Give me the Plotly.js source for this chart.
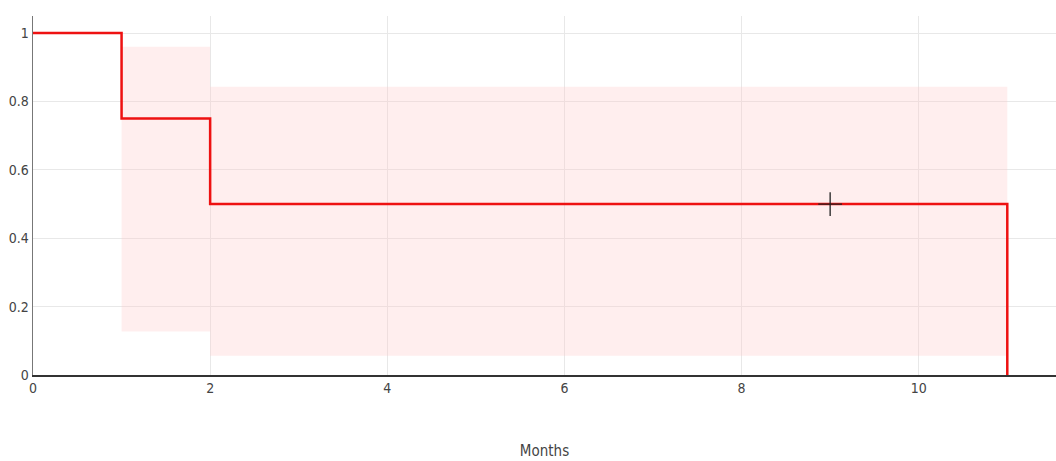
<!DOCTYPE html>
<html>
<head>
<meta charset="utf-8">
<script src="https://cdn.plot.ly/plotly-3.0.1.min.js"></script>
<style>html,body{margin:0;padding:0;background:#fff;}#chart{width:1056px;height:461px;}</style>
</head>
<body>
<div id="chart"></div>
<script>
var stepTimes = [0, 1, 2, 11];
var survival = [1, 0.75, 0.5, 0];
var ciTimes = [1, 2, 11];
var ciLower = [0.127, 0.056, 0.056];
var ciUpper = [0.96, 0.843, 0.843];
var censorTimes = [9];
var censorSurv = [0.5];

var traces = [
  {x: ciTimes, y: ciLower, mode: 'lines', line: {shape: 'hv', width: 0, color: 'rgba(0,0,0,0)'}, hoverinfo: 'skip', showlegend: false},
  {x: ciTimes, y: ciUpper, mode: 'lines', line: {shape: 'hv', width: 0, color: 'rgba(0,0,0,0)'}, fill: 'tonexty', fillcolor: 'rgba(255,200,200,0.3)', hoverinfo: 'skip', showlegend: false},
  {x: stepTimes, y: survival, mode: 'lines', line: {shape: 'hv', width: 2.5, color: '#ee1111'}, showlegend: false},
  {x: censorTimes, y: censorSurv, mode: 'markers', marker: {symbol: 'cross-thin', size: 17, line: {width: 1.3, color: '#222'}}, showlegend: false}
];

var layout = {
  width: 1056, height: 461,
  margin: {l: 33, r: 0, t: 16, b: 86},
  paper_bgcolor: '#fff', plot_bgcolor: '#fff',
  font: {family: 'DejaVu Sans Condensed, DejaVu Sans, sans-serif', size: 14, color: '#444'},
  showlegend: false,
  xaxis: {
    range: [0, 11.55], dtick: 2, tick0: 0, showgrid: true, gridcolor: '#e8e8e8',
    zeroline: false, showline: true, linecolor: '#333', linewidth: 1.5, ticks: '',
    tickfont: {size: 14, color: '#444'},
    title: {text: 'Months', standoff: 50, font: {size: 15, color: '#444'}}
  },
  yaxis: {
    range: [0, 1.05], dtick: 0.2, tick0: 0, showgrid: true, gridcolor: '#e8e8e8',
    zeroline: false, showline: true, linecolor: '#777', linewidth: 1.5, ticks: '', ticklabelstandoff: 0,
    tickfont: {size: 14, color: '#444'}
  }
};

Plotly.newPlot('chart', traces, layout, {displayModeBar: false, staticPlot: true});
</script>
</body>
</html>
